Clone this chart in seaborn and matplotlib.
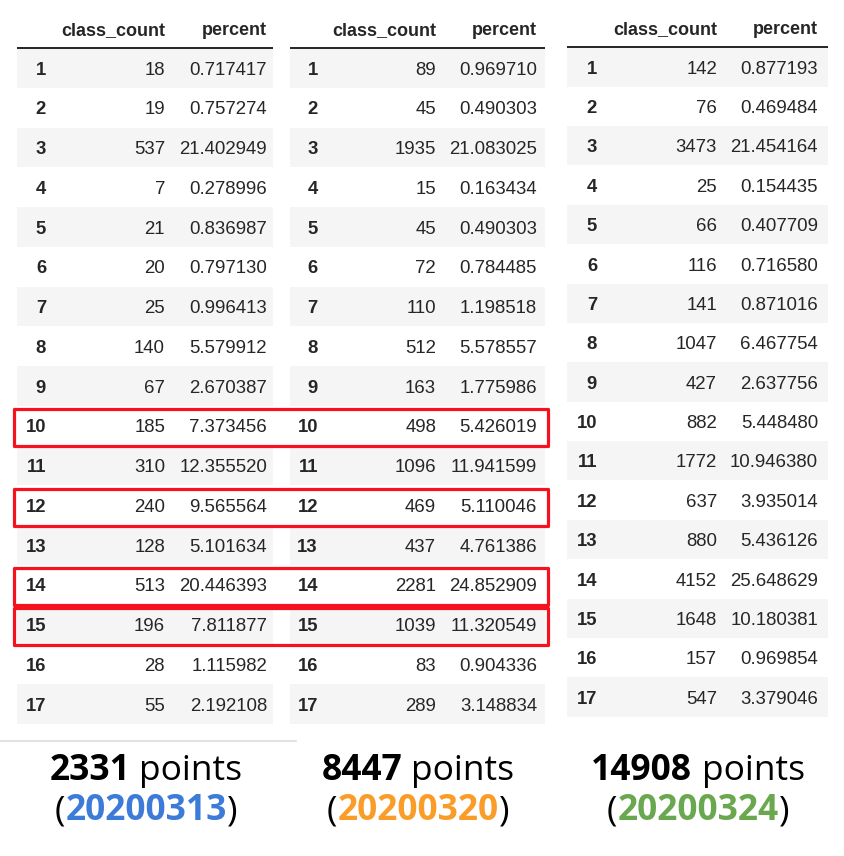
import seaborn as sns
import matplotlib.pyplot as plt
import pandas as pd
from matplotlib.patches import Rectangle
from matplotlib.lines import Line2D
from matplotlib.transforms import IdentityTransform

# data
rows = list(range(1, 18))

count_0313 = [18, 19, 537, 7, 21, 20, 25, 140, 67, 185, 310, 240, 128, 513, 196, 28, 55]
pct_0313 = [0.717417, 0.757274, 21.402949, 0.278996, 0.836987, 0.797130, 0.996413,
            5.579912, 2.670387, 7.373456, 12.355520, 9.565564, 5.101634, 20.446393,
            7.811877, 1.115982, 2.192108]

count_0320 = [89, 45, 1935, 15, 45, 72, 110, 512, 163, 498, 1096, 469, 437, 2281, 1039, 83, 289]
pct_0320 = [0.969710, 0.490303, 21.083025, 0.163434, 0.490303, 0.784485, 1.198518,
            5.578557, 1.775986, 5.426019, 11.941599, 5.110046, 4.761386, 24.852909,
            11.320549, 0.904336, 3.148834]

count_0324 = [142, 76, 3473, 25, 66, 116, 141, 1047, 427, 882, 1772, 637, 880, 4152, 1648, 157, 547]
pct_0324 = [0.877193, 0.469484, 21.454164, 0.154435, 0.407709, 0.716580, 0.871016,
            6.467754, 2.637756, 5.448480, 10.946380, 3.935014, 5.436126, 25.648629,
            10.180381, 0.969854, 3.379046]

totals = [2331, 8447, 14908]
dates = ['20200313', '20200320', '20200324']
date_colors = ['#3d7bd9', '#fa9c28', '#6aa84f']
highlight_rows = [10, 12, 14, 15]

W, H = 844, 856

sns.set_theme(style="white")
plt.rcParams['font.family'] = ['Liberation Sans', 'DejaVu Sans']

fig = plt.figure(figsize=(W / 100, H / 100), dpi=100)

# layout of each table in pixels: band left/right, row 1 centre, row step, column anchors
layout = [
    dict(left=17, right=273, row1=68, step=39.75, cols=(29, 148, 250)),
    dict(left=290, right=545, row1=68, step=39.75, cols=(28, 146, 247)),
    dict(left=567, right=828, row1=67, step=39.375, cols=(30, 150, 251)),
]
tables = [(count_0313, pct_0313), (count_0320, pct_0320), (count_0324, pct_0324)]

fs_head = 13.0
fs_idx = 13.3
fs_body = 13.4
axes = []
for (counts, pcts), lay in zip(tables, layout):
    top = lay['row1'] - 1.5 * lay['step']
    bottom = lay['row1'] + 16.5 * lay['step']
    width = lay['right'] - lay['left']
    ax = fig.add_axes([lay['left'] / W, 1 - bottom / H, width / W, (bottom - top) / H])
    axes.append(ax)

    df = pd.DataFrame({'row': rows, 'class_count': counts, 'percent': pcts})
    odd = df[df['row'] % 2 == 1].assign(span=width)
    sns.barplot(data=odd, x='span', y='row', orient='h', native_scale=True,
                width=0.5, color='#f5f5f5', saturation=1, linewidth=0, ax=ax)

    ax.set_xlim(0, width)
    ax.set_ylim(17.5, -0.5)
    ax.axis('off')
    ax.axhline(0.5, color='black', lw=1.2)

    off = 6.7 / lay['step']
    cx, cc, cp = lay['cols']
    ax.text(cc, off, 'class_count', ha='right', va='baseline', fontsize=fs_head, fontweight='bold')
    ax.text(cp, off, 'percent', ha='right', va='baseline', fontsize=fs_head, fontweight='bold')
    for r, c, p in zip(df['row'], df['class_count'], df['percent']):
        ax.text(cx, r + off, str(r), ha='right', va='baseline', fontsize=fs_idx, fontweight='bold')
        ax.text(cc, r + off, str(c), ha='right', va='baseline', fontsize=fs_body)
        ax.text(cp, r + off, f'{p:.6f}', ha='right', va='baseline', fontsize=fs_body)

# red boxes around the highlighted rows, spanning the first two tables
ax1 = axes[0]
ax1.set_zorder(5)
box_x0 = 13.5 - layout[0]['left']
box_w = 548 - 13.5
for r in highlight_rows:
    ax1.add_patch(Rectangle((box_x0, r - 0.42), box_w, 0.94, fill=False,
                            ec='#f5121f', lw=2.3, joinstyle='round',
                            clip_on=False, zorder=6))

# faint separator under the first table
fig.add_artist(Line2D([0, 296 / W], [1 - 741 / H] * 2, color='#e2e2e2', lw=1.5))


# captions: mixed bold / regular runs, centred
renderer = fig.canvas.get_renderer()
cap_fs = 25.5


def place_runs(xc, y_top, runs):
    arts = []
    for s, weight, color in runs:
        t = fig.text(0, H - y_top, s.lstrip(' '), fontsize=cap_fs, fontweight=weight, color=color,
                     family='Open Sans', ha='left', va='baseline',
                     transform=IdentityTransform())
        arts.append(t)
    widths = [t.get_window_extent(renderer).width for t in arts]
    probe_a = fig.text(0, 0, 'nn', fontsize=cap_fs, family='Open Sans')
    probe_b = fig.text(0, 0, 'n n', fontsize=cap_fs, family='Open Sans')
    gap_w = probe_b.get_window_extent(renderer).width - probe_a.get_window_extent(renderer).width
    probe_a.remove()
    probe_b.remove()
    gaps = [gap_w if s.startswith(' ') else 0 for s, _, _ in runs]
    total = sum(widths) + sum(gaps)
    x = xc - total / 2
    for t, w, g in zip(arts, widths, gaps):
        x += g
        t.set_x(x)
        x += w


centers = [146, 418, 698]
for xc, n, d, col in zip(centers, totals, dates, date_colors):
    place_runs(xc, 780, [(str(n), 'bold', 'black'), (' points', 'normal', 'black')])
    place_runs(xc, 820, [('(', 'normal', 'black'), (d, 'bold', col), (')', 'normal', 'black')])

fig.savefig('out.png', dpi=100)
